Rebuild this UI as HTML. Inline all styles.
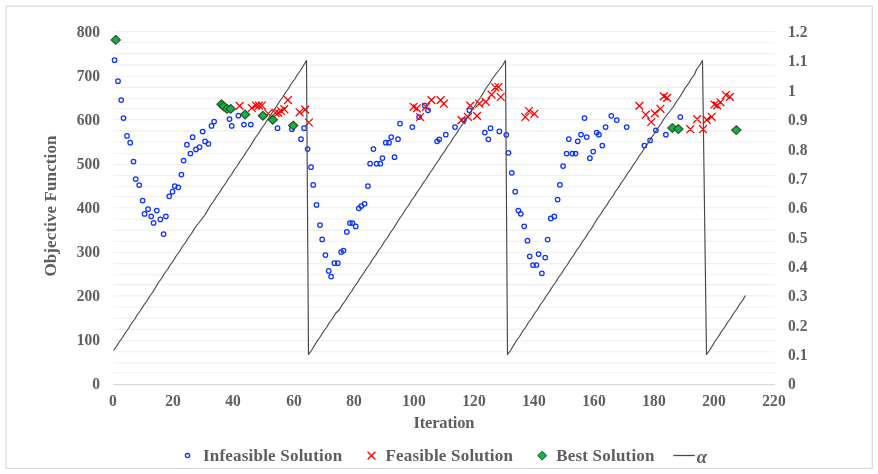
<!DOCTYPE html>
<html><head><meta charset="utf-8"><title>chart</title>
<style>
html,body{margin:0;padding:0;background:#fff;}
body{will-change:transform;width:878px;height:474px;position:relative;overflow:hidden;font-family:"Liberation Serif",serif;font-weight:bold;color:#5e5e5e;font-size:17px;}
.t{position:absolute;white-space:nowrap;line-height:20px;height:20px;}
.yl{text-align:right;width:60px;left:39.8px;transform:scaleX(0.912);transform-origin:100% 50%;}
.yr{text-align:left;left:788px;transform:scaleX(0.912);transform-origin:0 50%;}
.xl{text-align:center;width:60px;transform:scaleX(0.912);transform-origin:50% 50%;}
</style></head><body>
<svg width="878" height="474" viewBox="0 0 878 474" style="position:absolute;left:0;top:0">
<rect x="6" y="6.2" width="866.3" height="462.2" fill="#fff" stroke="#dcdcdc" stroke-width="1.25"/>
<g stroke="#efefef" stroke-width="1.1">
<line x1="113.5" y1="31.57" x2="775.2" y2="31.57"/>
<line x1="113.5" y1="42.74" x2="775.2" y2="42.74"/>
<line x1="113.5" y1="53.91" x2="775.2" y2="53.91"/>
<line x1="113.5" y1="65.08" x2="775.2" y2="65.08"/>
<line x1="113.5" y1="76.25" x2="775.2" y2="76.25"/>
<line x1="113.5" y1="87.42" x2="775.2" y2="87.42"/>
<line x1="113.5" y1="98.59" x2="775.2" y2="98.59"/>
<line x1="113.5" y1="108.47" x2="775.2" y2="108.47"/>
<line x1="113.5" y1="119.67" x2="775.2" y2="119.67"/>
<line x1="113.5" y1="130.84" x2="775.2" y2="130.84"/>
<line x1="113.5" y1="142.01" x2="775.2" y2="142.01"/>
<line x1="113.5" y1="153.18" x2="775.2" y2="153.18"/>
<line x1="113.5" y1="164.35" x2="775.2" y2="164.35"/>
<line x1="113.5" y1="175.52" x2="775.2" y2="175.52"/>
<line x1="113.5" y1="186.69" x2="775.2" y2="186.69"/>
<line x1="113.5" y1="196.57" x2="775.2" y2="196.57"/>
<line x1="113.5" y1="207.77" x2="775.2" y2="207.77"/>
<line x1="113.5" y1="218.94" x2="775.2" y2="218.94"/>
<line x1="113.5" y1="230.11" x2="775.2" y2="230.11"/>
<line x1="113.5" y1="241.28" x2="775.2" y2="241.28"/>
<line x1="113.5" y1="252.45" x2="775.2" y2="252.45"/>
<line x1="113.5" y1="263.62" x2="775.2" y2="263.62"/>
<line x1="113.5" y1="274.79" x2="775.2" y2="274.79"/>
<line x1="113.5" y1="284.67" x2="775.2" y2="284.67"/>
<line x1="113.5" y1="295.87" x2="775.2" y2="295.87"/>
<line x1="113.5" y1="307.04" x2="775.2" y2="307.04"/>
<line x1="113.5" y1="318.21" x2="775.2" y2="318.21"/>
<line x1="113.5" y1="329.38" x2="775.2" y2="329.38"/>
<line x1="113.5" y1="340.55" x2="775.2" y2="340.55"/>
<line x1="113.5" y1="351.72" x2="775.2" y2="351.72"/>
<line x1="113.5" y1="362.89" x2="775.2" y2="362.89"/>
<line x1="113.5" y1="372.77" x2="775.2" y2="372.77"/>
</g>
<line x1="113.5" y1="384.57" x2="775.2" y2="384.57" stroke="#d9d9d9" stroke-width="1.2"/>
<g fill="none" stroke="#0a32ff" stroke-width="1.25">
<circle cx="114.6" cy="60.2" r="2.25"/>
<circle cx="118.0" cy="81.2" r="2.25"/>
<circle cx="121.2" cy="100.0" r="2.25"/>
<circle cx="123.5" cy="118.1" r="2.25"/>
<circle cx="127.0" cy="135.9" r="2.25"/>
<circle cx="130.2" cy="142.7" r="2.25"/>
<circle cx="133.5" cy="161.6" r="2.25"/>
<circle cx="135.7" cy="179.1" r="2.25"/>
<circle cx="139.2" cy="185.0" r="2.25"/>
<circle cx="142.6" cy="200.5" r="2.25"/>
<circle cx="144.6" cy="213.9" r="2.25"/>
<circle cx="148.1" cy="209.2" r="2.25"/>
<circle cx="151.2" cy="216.3" r="2.25"/>
<circle cx="153.6" cy="222.9" r="2.25"/>
<circle cx="156.8" cy="210.5" r="2.25"/>
<circle cx="160.3" cy="219.4" r="2.25"/>
<circle cx="163.6" cy="234.0" r="2.25"/>
<circle cx="165.9" cy="216.3" r="2.25"/>
<circle cx="169.2" cy="196.3" r="2.25"/>
<circle cx="172.5" cy="191.7" r="2.25"/>
<circle cx="174.7" cy="186.1" r="2.25"/>
<circle cx="178.3" cy="187.3" r="2.25"/>
<circle cx="181.4" cy="174.6" r="2.25"/>
<circle cx="183.6" cy="160.5" r="2.25"/>
<circle cx="186.9" cy="144.7" r="2.25"/>
<circle cx="190.4" cy="153.6" r="2.25"/>
<circle cx="192.6" cy="137.2" r="2.25"/>
<circle cx="196.0" cy="149.4" r="2.25"/>
<circle cx="199.5" cy="147.2" r="2.25"/>
<circle cx="202.6" cy="131.5" r="2.25"/>
<circle cx="205.1" cy="141.4" r="2.25"/>
<circle cx="208.4" cy="143.8" r="2.25"/>
<circle cx="211.5" cy="125.9" r="2.25"/>
<circle cx="214.1" cy="121.5" r="2.25"/>
<circle cx="229.5" cy="119.0" r="2.25"/>
<circle cx="231.7" cy="125.9" r="2.25"/>
<circle cx="238.4" cy="115.7" r="2.25"/>
<circle cx="243.9" cy="124.6" r="2.25"/>
<circle cx="250.8" cy="124.6" r="2.25"/>
<circle cx="277.5" cy="128.2" r="2.25"/>
<circle cx="291.9" cy="129.2" r="2.25"/>
<circle cx="301.0" cy="139.2" r="2.25"/>
<circle cx="304.1" cy="128.2" r="2.25"/>
<circle cx="307.6" cy="149.1" r="2.25"/>
<circle cx="311.0" cy="167.2" r="2.25"/>
<circle cx="313.2" cy="184.9" r="2.25"/>
<circle cx="316.5" cy="204.9" r="2.25"/>
<circle cx="320.0" cy="225.1" r="2.25"/>
<circle cx="322.2" cy="239.4" r="2.25"/>
<circle cx="325.4" cy="255.0" r="2.25"/>
<circle cx="328.7" cy="270.9" r="2.25"/>
<circle cx="331.1" cy="276.5" r="2.25"/>
<circle cx="334.4" cy="263.2" r="2.25"/>
<circle cx="337.8" cy="263.2" r="2.25"/>
<circle cx="341.1" cy="252.1" r="2.25"/>
<circle cx="343.5" cy="250.5" r="2.25"/>
<circle cx="346.8" cy="231.9" r="2.25"/>
<circle cx="349.9" cy="223.0" r="2.25"/>
<circle cx="352.4" cy="223.0" r="2.25"/>
<circle cx="355.7" cy="226.4" r="2.25"/>
<circle cx="358.8" cy="208.3" r="2.25"/>
<circle cx="361.3" cy="206.1" r="2.25"/>
<circle cx="364.6" cy="203.8" r="2.25"/>
<circle cx="367.9" cy="186.1" r="2.25"/>
<circle cx="370.1" cy="163.7" r="2.25"/>
<circle cx="373.4" cy="149.1" r="2.25"/>
<circle cx="376.7" cy="163.7" r="2.25"/>
<circle cx="380.3" cy="163.7" r="2.25"/>
<circle cx="382.5" cy="158.1" r="2.25"/>
<circle cx="385.8" cy="142.7" r="2.25"/>
<circle cx="389.0" cy="142.7" r="2.25"/>
<circle cx="391.2" cy="137.0" r="2.25"/>
<circle cx="394.5" cy="157.2" r="2.25"/>
<circle cx="398.0" cy="139.2" r="2.25"/>
<circle cx="400.0" cy="123.6" r="2.25"/>
<circle cx="412.3" cy="127.1" r="2.25"/>
<circle cx="419.1" cy="117.0" r="2.25"/>
<circle cx="424.7" cy="105.6" r="2.25"/>
<circle cx="428.0" cy="110.3" r="2.25"/>
<circle cx="437.1" cy="141.3" r="2.25"/>
<circle cx="439.3" cy="139.3" r="2.25"/>
<circle cx="445.8" cy="134.7" r="2.25"/>
<circle cx="455.0" cy="127.1" r="2.25"/>
<circle cx="463.9" cy="120.1" r="2.25"/>
<circle cx="469.4" cy="110.3" r="2.25"/>
<circle cx="484.8" cy="132.5" r="2.25"/>
<circle cx="488.3" cy="139.3" r="2.25"/>
<circle cx="490.5" cy="128.2" r="2.25"/>
<circle cx="499.4" cy="131.4" r="2.25"/>
<circle cx="506.3" cy="134.8" r="2.25"/>
<circle cx="508.5" cy="152.8" r="2.25"/>
<circle cx="511.8" cy="172.8" r="2.25"/>
<circle cx="515.2" cy="191.7" r="2.25"/>
<circle cx="518.4" cy="210.5" r="2.25"/>
<circle cx="520.8" cy="213.8" r="2.25"/>
<circle cx="524.2" cy="226.3" r="2.25"/>
<circle cx="527.5" cy="240.7" r="2.25"/>
<circle cx="529.7" cy="256.3" r="2.25"/>
<circle cx="533.0" cy="265.1" r="2.25"/>
<circle cx="536.4" cy="265.1" r="2.25"/>
<circle cx="538.6" cy="254.1" r="2.25"/>
<circle cx="541.9" cy="273.3" r="2.25"/>
<circle cx="545.2" cy="257.6" r="2.25"/>
<circle cx="547.6" cy="239.6" r="2.25"/>
<circle cx="550.8" cy="218.4" r="2.25"/>
<circle cx="554.3" cy="216.4" r="2.25"/>
<circle cx="557.6" cy="199.5" r="2.25"/>
<circle cx="559.9" cy="184.8" r="2.25"/>
<circle cx="563.1" cy="166.0" r="2.25"/>
<circle cx="566.6" cy="153.6" r="2.25"/>
<circle cx="568.8" cy="139.1" r="2.25"/>
<circle cx="572.3" cy="153.6" r="2.25"/>
<circle cx="575.5" cy="153.6" r="2.25"/>
<circle cx="577.7" cy="141.3" r="2.25"/>
<circle cx="581.0" cy="134.6" r="2.25"/>
<circle cx="584.5" cy="118.1" r="2.25"/>
<circle cx="586.7" cy="137.0" r="2.25"/>
<circle cx="589.9" cy="158.2" r="2.25"/>
<circle cx="593.2" cy="151.6" r="2.25"/>
<circle cx="596.7" cy="132.5" r="2.25"/>
<circle cx="598.9" cy="134.7" r="2.25"/>
<circle cx="602.3" cy="145.5" r="2.25"/>
<circle cx="605.6" cy="127.1" r="2.25"/>
<circle cx="611.3" cy="115.8" r="2.25"/>
<circle cx="616.7" cy="120.1" r="2.25"/>
<circle cx="626.7" cy="127.1" r="2.25"/>
<circle cx="644.4" cy="145.6" r="2.25"/>
<circle cx="650.1" cy="140.4" r="2.25"/>
<circle cx="655.9" cy="130.3" r="2.25"/>
<circle cx="665.9" cy="134.7" r="2.25"/>
<circle cx="680.3" cy="117.0" r="2.25"/>
</g>
<g stroke="#ff0000" stroke-width="1.3" fill="none">
<path d="M235.7 102.0L243.5 109.8M235.7 109.8L243.5 102.0M247.9 104.1L255.7 111.9M247.9 111.9L255.7 104.1M252.1 101.6L259.9 109.4M252.1 109.4L259.9 101.6M255.0 101.7L262.8 109.5M255.0 109.5L262.8 101.7M258.0 101.6L265.8 109.4M258.0 109.4L265.8 101.6M264.3 109.6L272.1 117.4M264.3 117.4L272.1 109.6M271.6 108.9L279.4 116.7M271.6 116.7L279.4 108.9M274.3 108.9L282.1 116.7M274.3 116.7L282.1 108.9M277.1 107.1L284.9 114.9M277.1 114.9L284.9 107.1M280.4 105.3L288.2 113.1M280.4 113.1L288.2 105.3M284.0 96.2L291.8 104.0M284.0 104.0L291.8 96.2M295.7 108.4L303.5 116.2M295.7 116.2L303.5 108.4M301.3 105.7L309.1 113.5M301.3 113.5L309.1 105.7M305.0 118.6L312.8 126.4M305.0 126.4L312.8 118.6M409.7 102.9L417.5 110.7M409.7 110.7L417.5 102.9M413.0 104.4L420.8 112.2M413.0 112.2L420.8 104.4M416.2 113.1L424.0 120.9M416.2 120.9L424.0 113.1M422.1 102.9L429.9 110.7M422.1 110.7L429.9 102.9M427.5 96.2L435.3 104.0M427.5 104.0L435.3 96.2M436.7 96.2L444.5 104.0M436.7 104.0L444.5 96.2M439.9 99.8L447.7 107.6M439.9 107.6L447.7 99.8M457.6 116.2L465.4 124.0M457.6 124.0L465.4 116.2M464.0 113.0L471.8 120.8M464.0 120.8L471.8 113.0M466.4 101.7L474.2 109.5M466.4 109.5L474.2 101.7M473.1 112.0L480.9 119.8M473.1 119.8L480.9 112.0M475.3 99.8L483.1 107.6M475.3 107.6L483.1 99.8M481.9 98.0L489.7 105.8M481.9 105.8L489.7 98.0M487.7 90.7L495.5 98.5M487.7 98.5L495.5 90.7M491.3 83.4L499.1 91.2M491.3 91.2L499.1 83.4M494.6 83.1L502.4 90.9M494.6 90.9L502.4 83.1M496.8 93.1L504.6 100.9M496.8 100.9L504.6 93.1M521.4 113.1L529.2 120.9M521.4 120.9L529.2 113.1M525.0 107.1L532.8 114.9M525.0 114.9L532.8 107.1M530.5 109.9L538.3 117.7M530.5 117.7L538.3 109.9M635.4 102.0L643.2 109.8M635.4 109.8L643.2 102.0M641.8 110.8L649.6 118.6M641.8 118.6L649.6 110.8M647.3 118.1L655.1 125.9M647.3 125.9L655.1 118.1M650.9 109.5L658.7 117.3M650.9 117.3L658.7 109.5M656.5 104.9L664.3 112.7M656.5 112.7L664.3 104.9M659.9 92.5L667.7 100.3M659.9 100.3L667.7 92.5M663.2 94.0L671.0 101.8M663.2 101.8L671.0 94.0M686.4 125.3L694.2 133.1M686.4 133.1L694.2 125.3M693.2 115.2L701.0 123.0M693.2 123.0L701.0 115.2M699.1 125.3L706.9 133.1M699.1 133.1L706.9 125.3M702.9 116.0L710.7 123.8M702.9 123.8L710.7 116.0M707.8 112.9L715.6 120.7M707.8 120.7L715.6 112.9M710.6 100.6L718.4 108.4M710.6 108.4L718.4 100.6M713.3 101.5L721.1 109.3M713.3 109.3L721.1 101.5M716.6 98.4L724.4 106.2M716.6 106.2L724.4 98.4M722.0 91.1L729.8 98.9M722.0 98.9L729.8 91.1M726.0 93.0L733.8 100.8M726.0 100.8L733.8 93.0"/>
</g>
<g fill="#10b155" stroke="#2c5418" stroke-width="1.2">
<path d="M115.7 35.55L120.3 39.9L115.7 44.25L111.1 39.9Z"/>
<path d="M221.5 99.95L226.1 104.3L221.5 108.65L216.9 104.3Z"/>
<path d="M223.6 101.85L228.2 106.2L223.6 110.55L219.0 106.2Z"/>
<path d="M227.0 104.55L231.6 108.9L227.0 113.25L222.4 108.9Z"/>
<path d="M230.7 104.55L235.3 108.9L230.7 113.25L226.1 108.9Z"/>
<path d="M245.1 110.15L249.7 114.5L245.1 118.85L240.5 114.5Z"/>
<path d="M262.9 111.35L267.5 115.7L262.9 120.05L258.3 115.7Z"/>
<path d="M272.8 115.45L277.4 119.8L272.8 124.15L268.2 119.8Z"/>
<path d="M293.2 121.25L297.8 125.6L293.2 129.95L288.6 125.6Z"/>
<path d="M672.4 123.65L677.0 128.0L672.4 132.35L667.8 128.0Z"/>
<path d="M678.3 124.65L682.9 129.0L678.3 133.35L673.7 129.0Z"/>
<path d="M736.3 125.75L740.9 130.1L736.3 134.45L731.7 130.1Z"/>
</g>
<polyline points="113.5,350.5 116.5,346.5 119.5,341.5 122.5,337.5 125.5,332.5 128.5,328.5 131.5,323.5 134.5,319.5 137.5,314.5 140.5,310.5 143.5,305.5 146.5,301.5 149.5,296.5 152.5,292.5 155.5,287.5 158.5,282.5 161.5,278.5 164.5,273.5 167.5,269.5 170.5,264.5 173.5,260.5 176.5,255.5 179.5,251.5 182.5,246.5 185.5,242.5 188.5,237.5 191.5,233.5 194.5,228.5 197.5,224.5 201.5,219.5 204.5,215.5 207.5,210.5 210.5,205.5 213.5,201.5 216.5,196.5 219.5,192.5 222.5,187.5 225.5,183.5 228.5,178.5 231.5,174.5 234.5,169.5 237.5,165.5 240.5,160.5 243.5,156.5 246.5,151.5 249.5,147.5 252.5,142.5 255.5,137.5 258.5,133.5 261.5,128.5 264.5,124.5 267.5,119.5 270.5,115.5 273.5,110.5 276.5,106.5 279.5,101.5 282.5,97.5 285.5,92.5 288.5,88.5 291.5,83.5 294.5,79.5 297.5,74.5 300.5,70.5 303.5,65.5 306.5,60.5 308.5,354.5 311.5,350.5 314.5,345.5 317.5,340.5 320.5,336.5 323.5,331.5 326.5,327.5 329.5,322.5 332.5,318.5 335.5,313.5 339.5,309.5 342.5,304.5 345.5,300.5 348.5,295.5 351.5,291.5 354.5,286.5 357.5,282.5 360.5,277.5 363.5,273.5 366.5,268.5 369.5,264.5 372.5,259.5 375.5,255.5 378.5,250.5 381.5,246.5 384.5,241.5 387.5,237.5 390.5,232.5 393.5,228.5 396.5,223.5 399.5,218.5 402.5,214.5 405.5,209.5 408.5,205.5 411.5,200.5 414.5,196.5 417.5,191.5 420.5,187.5 423.5,182.5 426.5,178.5 429.5,173.5 432.5,169.5 435.5,164.5 438.5,160.5 441.5,155.5 444.5,151.5 447.5,146.5 450.5,142.5 453.5,137.5 456.5,133.5 459.5,128.5 462.5,124.5 465.5,119.5 468.5,115.5 471.5,110.5 474.5,106.5 477.5,101.5 480.5,97.5 483.5,92.5 486.5,87.5 489.5,83.5 492.5,78.5 495.5,74.5 499.5,69.5 502.5,65.5 505.5,60.5 507.5,354.5 510.5,350.5 513.5,345.5 516.5,340.5 519.5,336.5 522.5,331.5 525.5,327.5 528.5,322.5 531.5,318.5 534.5,313.5 537.5,309.5 540.5,304.5 543.5,300.5 546.5,295.5 549.5,291.5 552.5,286.5 555.5,282.5 558.5,277.5 561.5,273.5 564.5,268.5 567.5,264.5 570.5,259.5 573.5,255.5 576.5,250.5 579.5,246.5 582.5,241.5 585.5,237.5 588.5,232.5 591.5,228.5 594.5,223.5 597.5,218.5 600.5,214.5 603.5,209.5 606.5,205.5 609.5,200.5 612.5,196.5 615.5,191.5 618.5,187.5 621.5,182.5 624.5,178.5 627.5,173.5 630.5,169.5 633.5,164.5 636.5,160.5 639.5,155.5 642.5,151.5 645.5,146.5 648.5,142.5 651.5,137.5 654.5,133.5 657.5,128.5 660.5,124.5 663.5,119.5 666.5,115.5 670.5,110.5 673.5,106.5 676.5,101.5 679.5,97.5 682.5,92.5 685.5,87.5 688.5,83.5 691.5,78.5 694.5,74.5 696.5,69.5 699.5,65.5 702.5,60.5 706.5,354.5 709.5,350.5 712.5,345.5 715.5,340.5 718.5,336.5 721.5,331.5 724.5,327.5 727.5,322.5 730.5,318.5 733.5,313.5 736.5,309.5 739.5,304.5 742.5,300.5 745.5,295.5" fill="none" stroke="#474747" stroke-width="1.15" stroke-linejoin="round"/>
<circle cx="187.5" cy="455.6" r="2.1" fill="none" stroke="#0a32ff" stroke-width="1.3"/>
<path d="M367.6 451.70000000000005L375.4 459.5M367.6 459.5L375.4 451.70000000000005" stroke="#ff0000" stroke-width="1.3"/>
<path d="M542.2 451.25L546.80 455.6L542.2 459.95L537.60 455.6Z" fill="#10b155" stroke="#2c5418" stroke-width="1"/>
<line x1="673.4" y1="455.5" x2="694.8" y2="455.5" stroke="#474747" stroke-width="1.25"/>
</svg>
<div class="t yl" style="top:374.3px">0</div>
<div class="t yl" style="top:330.4px">100</div>
<div class="t yl" style="top:285.8px">200</div>
<div class="t yl" style="top:242.3px">300</div>
<div class="t yl" style="top:197.7px">400</div>
<div class="t yl" style="top:154.2px">500</div>
<div class="t yl" style="top:109.6px">600</div>
<div class="t yl" style="top:66.2px">700</div>
<div class="t yl" style="top:21.5px">800</div>
<div class="t yr" style="top:374.4px">0</div>
<div class="t yr" style="top:345.0px">0.1</div>
<div class="t yr" style="top:315.7px">0.2</div>
<div class="t yr" style="top:286.3px">0.3</div>
<div class="t yr" style="top:256.9px">0.4</div>
<div class="t yr" style="top:227.6px">0.5</div>
<div class="t yr" style="top:198.2px">0.6</div>
<div class="t yr" style="top:168.8px">0.7</div>
<div class="t yr" style="top:139.5px">0.8</div>
<div class="t yr" style="top:110.1px">0.9</div>
<div class="t yr" style="top:80.7px">1</div>
<div class="t yr" style="top:51.4px">1.1</div>
<div class="t yr" style="top:22.0px">1.2</div>
<div class="t xl" style="left:83.2px;top:391.3px">0</div>
<div class="t xl" style="left:143.3px;top:391.3px">20</div>
<div class="t xl" style="left:203.4px;top:391.3px">40</div>
<div class="t xl" style="left:263.5px;top:391.3px">60</div>
<div class="t xl" style="left:323.6px;top:391.3px">80</div>
<div class="t xl" style="left:383.7px;top:391.3px">100</div>
<div class="t xl" style="left:443.8px;top:391.3px">120</div>
<div class="t xl" style="left:503.9px;top:391.3px">140</div>
<div class="t xl" style="left:564.0px;top:391.3px">160</div>
<div class="t xl" style="left:624.1px;top:391.3px">180</div>
<div class="t xl" style="left:684.2px;top:391.3px">200</div>
<div class="t xl" style="left:744.3px;top:391.3px">220</div>
<div class="t" id="xt" style="left:413.4px;top:412.7px;font-size:16.5px;letter-spacing:-0.15px">Iteration</div>
<div class="t" id="yt" style="left:50.5px;top:206px;font-size:17px;letter-spacing:0.1px;transform:translate(-50%,-50%) rotate(-90deg);">Objective Function</div>
<div class="t lg" id="l1" style="left:203px;top:446.0px;font-size:17px;letter-spacing:0.2px">Infeasible Solution</div>
<div class="t lg" id="l2" style="left:385.5px;top:446.0px;font-size:17px;letter-spacing:0.2px">Feasible Solution</div>
<div class="t lg" id="l3" style="left:556.2px;top:446.0px;font-size:17px;letter-spacing:0.2px">Best Solution</div>
<div class="t lg" id="l4" style="left:696.8px;top:446.8px;font-size:18.5px;font-style:italic">α</div>
</body></html>
